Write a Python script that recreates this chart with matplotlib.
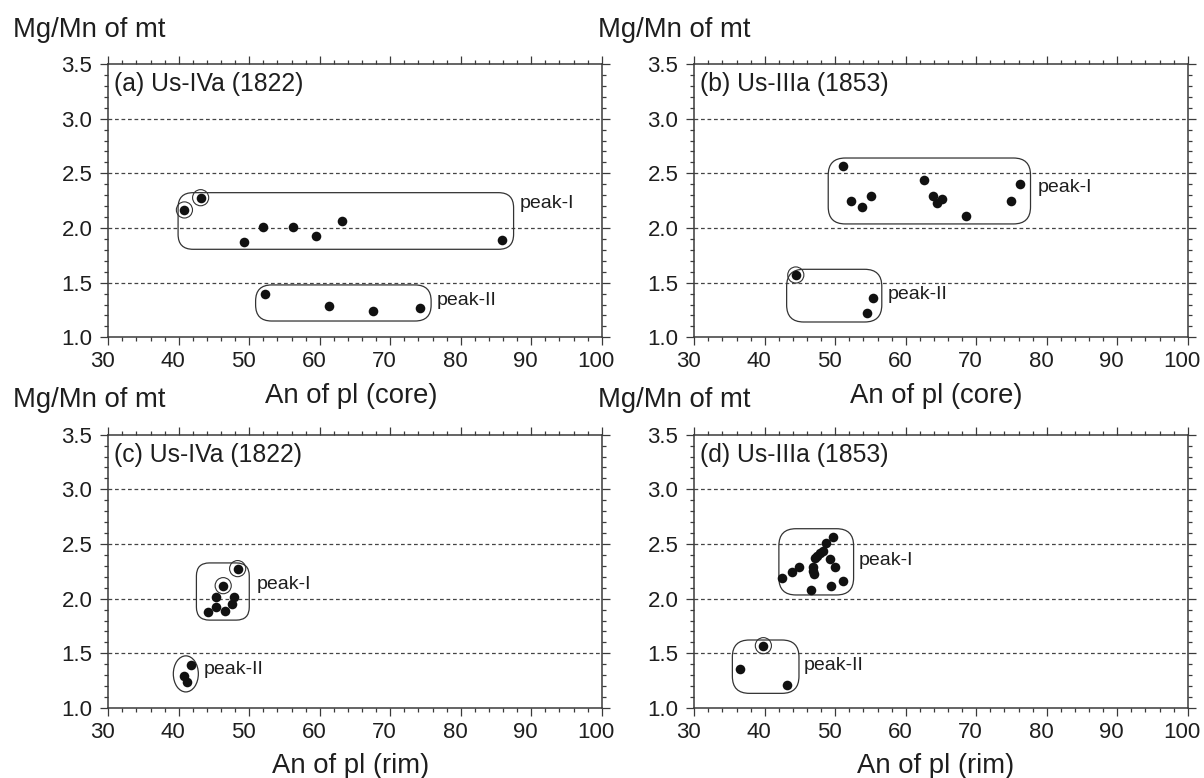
import matplotlib
matplotlib.use("Agg")
import matplotlib.pyplot as plt
from matplotlib.patches import FancyBboxPatch, Ellipse
from matplotlib.ticker import MultipleLocator, FormatStrFormatter
from matplotlib.transforms import ScaledTranslation

plt.rcParams['font.family'] = ['Liberation Sans', 'DejaVu Sans']

# ---------------- data ----------------
# (a) Us-IVa (1822), An of pl (core)
a_p1_x = [40.8, 43.1, 49.2, 51.9, 56.2, 59.4, 63.1, 85.9]
a_p1_y = [2.165, 2.277, 1.875, 2.012, 2.012, 1.924, 2.064, 1.887]
a_p2_x = [52.3, 61.3, 67.5, 74.2]
a_p2_y = [1.393, 1.290, 1.244, 1.268]
a_circled_x = [40.8, 43.1]
a_circled_y = [2.165, 2.277]

# (b) Us-IIIa (1853), An of pl (core)
b_p1_x = [51.1, 52.3, 53.8, 55.0, 62.6, 63.8, 64.4, 65.1, 68.5, 74.9, 76.2]
b_p1_y = [2.567, 2.250, 2.189, 2.290, 2.439, 2.293, 2.226, 2.262, 2.113, 2.250, 2.402]
b_p2_x = [44.4, 55.4, 54.5]
b_p2_y = [1.570, 1.357, 1.220]
b_circled_x = [44.4]
b_circled_y = [1.570]

# (c) Us-IVa (1822), An of pl (rim)
c_p1_x = [48.35, 46.3, 45.3, 45.3, 44.1, 46.6, 47.8, 47.6]
c_p1_y = [2.275, 2.119, 2.012, 1.927, 1.875, 1.887, 2.012, 1.951]
c_p2_x = [41.8, 40.7, 41.2]
c_p2_y = [1.391, 1.294, 1.239]
c_circled_x = [48.35, 46.3]
c_circled_y = [2.275, 2.119]

# (d) Us-IIIa (1853), An of pl (rim)
d_p1_x = [49.7, 48.7, 48.3, 47.8, 47.4, 47.1, 49.2, 44.85, 43.9, 42.5,
          46.9, 46.8, 47.0, 49.9, 51.1, 49.35, 46.5]
d_p1_y = [2.564, 2.512, 2.436, 2.415, 2.390, 2.369, 2.363, 2.293, 2.247, 2.186,
          2.287, 2.256, 2.223, 2.293, 2.159, 2.113, 2.082]
d_p2_x = [39.8, 36.5, 43.1]
d_p2_y = [1.570, 1.357, 1.213]
d_circled_x = [39.8]
d_circled_y = [1.570]

titles = ["(a) Us-IVa (1822)", "(b) Us-IIIa (1853)",
          "(c) Us-IVa (1822)", "(d) Us-IIIa (1853)"]
xlabels = ["An of pl (core)", "An of pl (core)", "An of pl (rim)", "An of pl (rim)"]
ylabel = "Mg/Mn of mt"
group_labels = ["peak-I", "peak-II"]

# group outlines: (x0, x1, y0, y1, corner radius in px)
a_boxes = [(39.9, 87.5, 1.805, 2.323, 15), (50.9, 75.8, 1.149, 1.479, 16)]
b_boxes = [(49.0, 77.7, 2.037, 2.640, 17), (43.1, 56.6, 1.140, 1.622, 17)]
c_boxes = [(42.5, 50.0, 1.804, 2.327, 13), None]
c_ellipse = (41.0, 1.312, 3.55, 0.33)
d_boxes = [(42.0, 52.6, 2.034, 2.640, 17), (35.4, 44.85, 1.134, 1.622, 17)]

# label anchors (x, y) for peak-I and peak-II
a_lab = [(88.3, 2.225), (76.6, 1.335)]
b_lab = [(78.7, 2.369), (57.4, 1.396)]
c_lab = [(51.0, 2.128), (43.5, 1.349)]
d_lab = [(53.3, 2.345), (45.5, 1.390)]

xlim = (30, 100)
ylim = (1.0, 3.5)
grid_y = [1.5, 2.0, 2.5, 3.0]

# ---------------- figure ----------------
W, H = 1204, 778
fig = plt.figure(figsize=(W / 100, H / 100), dpi=100)

ax_w = 493.4 / W
ax_h = 273.3 / H
lefts = [108.3 / W, 694.3 / W]
bottoms = [(H - 337.3) / H, (H - 708.0) / H]

axes = [fig.add_axes([lefts[0], bottoms[0], ax_w, ax_h]),
        fig.add_axes([lefts[1], bottoms[0], ax_w, ax_h]),
        fig.add_axes([lefts[0], bottoms[1], ax_w, ax_h]),
        fig.add_axes([lefts[1], bottoms[1], ax_w, ax_h])]

panels = [
    (a_p1_x + a_p2_x, a_p1_y + a_p2_y, a_circled_x, a_circled_y, a_boxes, None, a_lab),
    (b_p1_x + b_p2_x, b_p1_y + b_p2_y, b_circled_x, b_circled_y, b_boxes, None, b_lab),
    (c_p1_x + c_p2_x, c_p1_y + c_p2_y, c_circled_x, c_circled_y, c_boxes, c_ellipse, c_lab),
    (d_p1_x + d_p2_x, d_p1_y + d_p2_y, d_circled_x, d_circled_y, d_boxes, None, d_lab),
]

axis_col = '#3a3a3a'
text_col = '#1e1e1e'
px_per_x = 493.4 / (xlim[1] - xlim[0])
px_per_y = 273.3 / (ylim[1] - ylim[0])
aspect = px_per_x / px_per_y
shift = ScaledTranslation(-5.5 / 100, 0, fig.dpi_scale_trans)

for i, ax in enumerate(axes):
    xs, ys, cx, cy, boxes, ell, labs = panels[i]
    ax.set_xlim(*xlim)
    ax.set_ylim(*ylim)
    for gy in grid_y:
        ax.axhline(gy, color='#444444', lw=0.9, dashes=(3.0, 2.2), zorder=1)
    for sp in ax.spines.values():
        sp.set_color(axis_col)
        sp.set_linewidth(1.1)
    ax.xaxis.set_major_locator(MultipleLocator(10))
    ax.xaxis.set_minor_locator(MultipleLocator(2))
    ax.yaxis.set_major_locator(MultipleLocator(0.5))
    ax.yaxis.set_minor_locator(MultipleLocator(0.1))
    ax.yaxis.set_major_formatter(FormatStrFormatter('%.1f'))
    ax.tick_params(which='both', direction='out', top=True, right=True,
                   labeltop=False, labelright=False, color=axis_col, width=0.9)
    ax.tick_params(which='major', length=6.0, labelsize=16, labelcolor=text_col)
    ax.tick_params(which='minor', length=2.8)
    ax.tick_params(axis='x', which='major', pad=4.0)
    ax.tick_params(axis='y', which='major', pad=5.5)
    for lbl in ax.get_xticklabels():
        lbl.set_transform(lbl.get_transform() + shift)

    # outlines
    for b in boxes:
        if b is None:
            continue
        x0, x1, y0, y1, rpx = b
        r = rpx / px_per_x
        patch = FancyBboxPatch((x0, y0), x1 - x0, y1 - y0,
                               boxstyle=f"round,pad=0,rounding_size={r}",
                               mutation_aspect=aspect,
                               fc='none', ec='#333333', lw=0.9, zorder=2)
        ax.add_patch(patch)
    if ell is not None:
        ex, ey, ew, eh = ell
        ax.add_patch(Ellipse((ex, ey), ew, eh, fc='none', ec='#333333', lw=0.9, zorder=2))

    ax.scatter(xs, ys, s=48, color='#111111', zorder=4, linewidths=0)
    ax.scatter(cx, cy, s=135, facecolors='none', edgecolors='#333333',
               linewidths=0.8, zorder=3)

    for (lx, ly), lab in zip(labs, group_labels):
        ax.text(lx, ly, lab, ha='left', va='center', fontsize=14, color=text_col, zorder=5)

    ax.annotate(titles[i], xy=(0, 1), xycoords='axes fraction',
                xytext=(4, -6.0), textcoords='offset points',
                ha='left', va='top', fontsize=17.8, color=text_col)

# y labels (above each panel)
ylab_x = [12.7 / W, 598.3 / W]
ylab_y = [1 - 36.7 / H, 1 - 407.4 / H]
for r in range(2):
    for c in range(2):
        fig.text(ylab_x[c], ylab_y[r], ylabel, ha='left', va='baseline',
                 fontsize=19.8, color=text_col)

# x labels
xlab_x = [351 / W, 936 / W]
xlab_y = [1 - 402.7 / H, 1 - 773.3 / H]
for r in range(2):
    for c in range(2):
        fig.text(xlab_x[c], xlab_y[r], xlabels[r * 2 + c], ha='center', va='baseline',
                 fontsize=19.8, color=text_col)

fig.savefig("out.png", dpi=100)
